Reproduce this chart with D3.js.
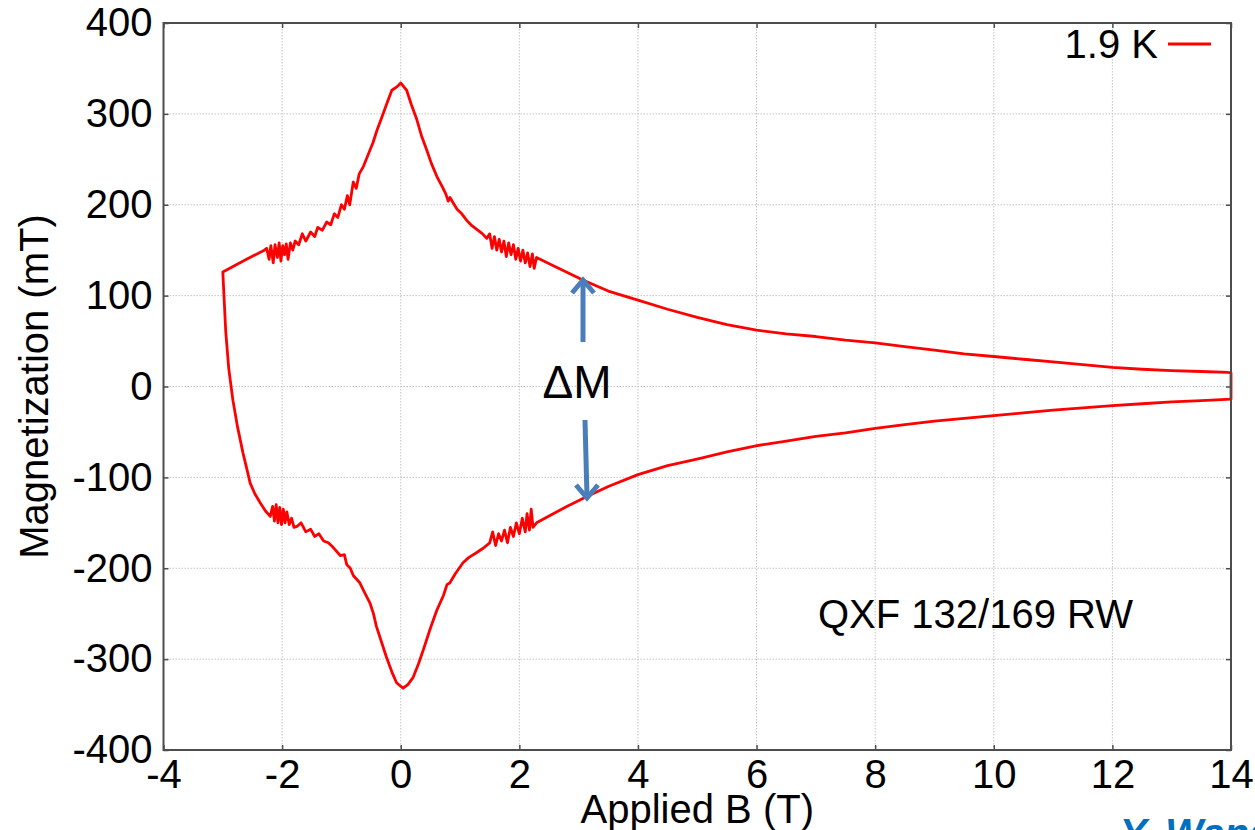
<!DOCTYPE html>
<html>
<head>
<meta charset="utf-8">
<script src="https://cdn.jsdelivr.net/npm/d3@7"></script>
<style>
  html, body { margin: 0; padding: 0; background: #fff; }
  svg { display: block; font-family: "Liberation Sans", Arial, sans-serif; }
</style>
</head>
<body>
<svg id="chart" width="1255" height="830"></svg>
<script>
// ---- data ----
const xTicks = [-4, -2, 0, 2, 4, 6, 8, 10, 12, 14];
const yTicks = [-400, -300, -200, -100, 0, 100, 200, 300, 400];

// upper branch (listed by increasing B)
const upperB = [-3.00,-2.60,-2.30,-2.26,-2.22,-2.19,-2.15,-2.12,-2.08,-2.05,-2.02,-1.99,-1.96,-1.93,-1.90,-1.86,-1.82,-1.78,-1.72,-1.66,-1.60,-1.52,-1.45,-1.40,-1.32,-1.25,-1.18,-1.12,-1.06,-1.00,-0.95,-0.90,-0.86,-0.80,-0.75,-0.70,-0.63,-0.55,-0.47,-0.40,-0.32,-0.22,-0.15,-0.06,0.00,0.05,0.10,0.18,0.27,0.35,0.44,0.52,0.61,0.70,0.76,0.80,0.83,0.95,1.03,1.11,1.20,1.30,1.38,1.45,1.50,1.54,1.58,1.62,1.66,1.70,1.74,1.78,1.82,1.86,1.90,1.94,1.98,2.02,2.06,2.10,2.14,2.18,2.22,2.25,2.29,2.60,3.08,3.50,4.00,4.50,5.00,5.50,6.00,6.50,7.00,7.50,8.00,8.50,9.00,9.50,10.0,10.5,11.0,11.5,12.0,12.5,13.0,13.5,13.95];
const upperM = [126,140,150,152,140,155,136,156,142,158,138,155,145,157,140,158,150,160,156,168,160,170,165,175,172,181,178,190,186,200,195,210,200,225,218,234,242,255,268,282,296,314,326,330,334,330,326,310,294,276,260,245,231,220,212,204,208,195,190,183,177,172,168,163,168,152,165,150,162,148,160,143,158,145,156,140,152,138,150,136,147,132,146,130,142,132,117,105,95,85,76,68,62,58,55,51,48,44,40,36,33,30,27,24,21,19,17.5,16.5,15.5];

// lower branch (listed by increasing B)
const lowerB = [-3.00,-2.95,-2.90,-2.83,-2.75,-2.66,-2.59,-2.54,-2.46,-2.37,-2.28,-2.20,-2.16,-2.13,-2.10,-2.07,-2.04,-2.01,-1.98,-1.95,-1.92,-1.88,-1.84,-1.80,-1.75,-1.68,-1.60,-1.52,-1.45,-1.38,-1.30,-1.22,-1.14,-1.02,-0.95,-0.91,-0.85,-0.80,-0.69,-0.60,-0.52,-0.46,-0.41,-0.32,-0.24,-0.15,-0.07,0.04,0.12,0.21,0.30,0.38,0.50,0.61,0.72,0.78,0.83,0.92,1.05,1.15,1.25,1.39,1.50,1.55,1.60,1.65,1.70,1.75,1.80,1.85,1.90,1.95,2.00,2.05,2.10,2.13,2.17,2.20,2.23,2.29,2.80,3.14,3.50,4.00,4.50,5.05,5.50,6.01,6.50,7.00,7.50,8.00,8.50,9.00,9.50,10.0,10.5,11.0,11.5,12.0,12.5,13.0,13.5,14.0];
const lowerM = [126,60,20,-15,-45,-73,-92,-106,-118,-128,-137,-143,-132,-148,-130,-150,-133,-152,-135,-150,-138,-152,-145,-155,-154,-150,-160,-157,-165,-162,-170,-172,-177,-186,-185,-196,-200,-208,-216,-228,-238,-250,-264,-282,-298,-314,-326,-332,-328,-320,-305,-290,-266,-246,-230,-218,-216,-206,-194,-188,-184,-178,-172,-160,-175,-162,-170,-158,-172,-155,-165,-150,-162,-145,-160,-140,-158,-135,-155,-150,-132,-121,-110,-97,-87,-79,-72,-65,-60,-55,-51,-46,-42,-38,-35,-32,-29,-26,-23.5,-21,-19,-17,-15.5,-14];

const legendLabel = "1.9 K";
const sampleLabel = "QXF 132/169 RW";
const xTitle = "Applied B (T)";
const yTitle = "Magnetization (mT)";

// ---- layout ----
const svg = d3.select("#chart");
const L = 163.5, R = 1231, T = 23, B = 750;
const x = d3.scaleLinear().domain([-4, 14]).range([L, R]);
const y = d3.scaleLinear().domain([-400, 400]).range([B, T]);
const FS = 40;

// grid
const grid = svg.append("g").attr("stroke", "#c4c4c4").attr("stroke-width", 1).attr("stroke-dasharray", "1.5,1.5");
xTicks.slice(1, -1).forEach(v => grid.append("line").attr("x1", x(v)).attr("x2", x(v)).attr("y1", T).attr("y2", B));
yTicks.slice(1, -1).forEach(v => grid.append("line").attr("x1", L).attr("x2", R).attr("y1", y(v)).attr("y2", y(v)));

// data loop: upper branch from 14 T down to -3 T, then lower branch back up to 14 T
const pts = [];
for (let i = upperB.length - 1; i >= 0; i--) pts.push([upperB[i], upperM[i]]);
for (let i = 1; i < lowerB.length; i++) pts.push([lowerB[i], lowerM[i]]);
pts.push([14.0, 15]);
pts.push([upperB[upperB.length - 1], upperM[upperM.length - 1]]);
const line = d3.line().x(d => x(d[0])).y(d => y(d[1]));
svg.append("path").attr("d", line(pts)).attr("fill", "none")
  .attr("stroke", "#ff0000").attr("stroke-width", 2.8).attr("stroke-linejoin", "round");

// axes
const fmt = d => String(d);
const xAxis = svg.append("g").attr("transform", `translate(0,${B})`)
  .call(d3.axisBottom(x).tickValues(xTicks).tickFormat(fmt).tickSizeInner(-5).tickSizeOuter(0).tickPadding(10));
const yAxis = svg.append("g").attr("transform", `translate(${L},0)`)
  .call(d3.axisLeft(y).tickValues(yTicks).tickFormat(fmt).tickSizeInner(-5).tickSizeOuter(0).tickPadding(11));
const xTop = svg.append("g").attr("transform", `translate(0,${T})`)
  .call(d3.axisTop(x).tickValues(xTicks).tickFormat("").tickSizeInner(-5).tickSizeOuter(0));
const yRight = svg.append("g").attr("transform", `translate(${R},0)`)
  .call(d3.axisRight(y).tickValues(yTicks).tickFormat("").tickSizeInner(-5).tickSizeOuter(0));
[xAxis, yAxis, xTop, yRight].forEach(g => {
  g.selectAll(".domain").remove();
  g.selectAll("line").attr("stroke", "#4d4d4d").attr("stroke-width", 1.5);
  g.selectAll("text").attr("font-size", FS).attr("font-family", "Liberation Sans, Arial, sans-serif").attr("fill", "#000");
});

// frame
svg.append("rect").attr("x", L).attr("y", T).attr("width", R - L).attr("height", B - T)
  .attr("fill", "none").attr("stroke", "#4d4d4d").attr("stroke-width", 2);

// axis titles
svg.append("text").attr("x", (L + R) / 2).attr("y", 823).attr("text-anchor", "middle")
  .attr("font-size", FS).text(xTitle);
svg.append("text").attr("transform", `translate(48,${(T + B) / 2}) rotate(-90)`).attr("text-anchor", "middle")
  .attr("font-size", FS).text(yTitle);

// legend
svg.append("text").attr("x", 1158).attr("y", 58).attr("text-anchor", "end").attr("font-size", FS).text(legendLabel);
svg.append("line").attr("x1", 1168).attr("x2", 1211).attr("y1", 44).attr("y2", 44)
  .attr("stroke", "#ff0000").attr("stroke-width", 2.8);

// annotations
svg.append("text").attr("x", 818).attr("y", 628).attr("font-size", FS).text(sampleLabel);
svg.append("text").attr("x", 577).attr("y", 398).attr("text-anchor", "middle").attr("font-size", 46).text("ΔM");

const blue = "#4a7ebb";
const arrows = svg.append("g").attr("stroke", blue).attr("stroke-width", 5).attr("fill", "none")
  .attr("stroke-linecap", "butt").attr("stroke-linejoin", "miter");
arrows.append("line").attr("x1", 583).attr("y1", 342).attr("x2", 583).attr("y2", 281);
arrows.append("path").attr("d", "M572,293 L583,280 L594,293");
arrows.append("line").attr("x1", 585).attr("y1", 420).attr("x2", 587).attr("y2", 497);
arrows.append("path").attr("d", "M576,485 L587,498 L598,485");

// author credit (cut by the page edge, as in the reference)
svg.append("text").attr("x", 1120).attr("y", 847).attr("font-size", FS).attr("font-weight", "bold")
  .attr("font-style", "italic").attr("fill", "#0070c0").text("Y. Wang");
</script>
</body>
</html>
